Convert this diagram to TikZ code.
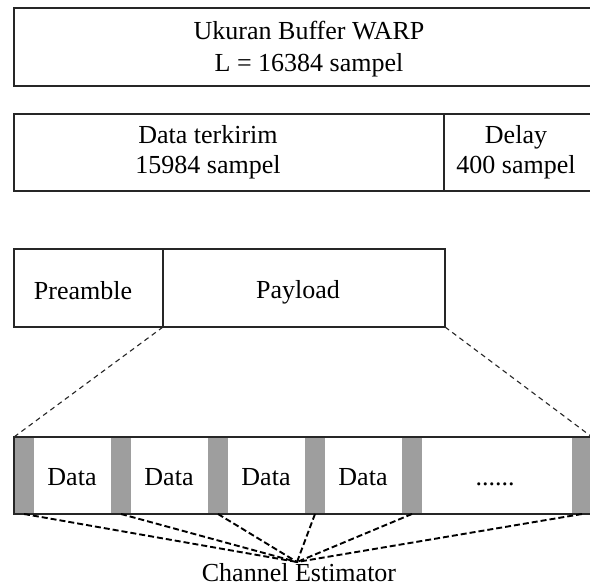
\documentclass[tikz,border=0pt]{standalone}
\usepackage{fontspec}
\setmainfont{Liberation Serif}
\begin{document}
\begin{tikzpicture}[x=1pt,y=-1pt,
  frame/.style={draw=black!85, line width=1.3pt, inner sep=0pt, outer sep=0pt, anchor=north west},
  lbl/.style={font=\fontsize{26}{31}\selectfont, inner sep=0pt, anchor=base},
  estblock/.style={fill=black!38, draw=none, inner sep=0pt, outer sep=0pt, anchor=north west,
                   minimum width=20pt, minimum height=77pt},
  zoomline/.style={dash pattern=on 5pt off 4pt, line width=1.1pt, draw=black!85},
  estline/.style={dash pattern=on 6pt off 3pt, line width=1.9pt, draw=black}]
\useasboundingbox (0,0) rectangle (590,586);
\fill[white] (0,0) rectangle (590,586);

% buffer size
\node[frame, minimum width=591pt, minimum height=78pt] (buf) at (14,8) {};
\node[lbl] (buf1) at (309,40) {Ukuran Buffer WARP};
\node[lbl] (buf2) at (309,72) {L = 16384 sampel};

% transmitted data and delay
\node[frame, minimum width=430pt, minimum height=77pt] (sent) at (14,114) {};
\node[frame, minimum width=161pt, minimum height=77pt] (delay) at (444,114) {};
\node[lbl] (sent1) at (208,143) {Data terkirim};
\node[lbl] (sent2) at (208,174) {15984 sampel};
\node[lbl] (delay1) at (516,143) {Delay};
\node[lbl] (delay2) at (516,174) {400 sampel};

% frame: preamble and payload
\node[frame, minimum width=149pt, minimum height=78pt] (pre) at (14,249) {};
\node[frame, minimum width=282pt, minimum height=78pt] (pay) at (163,249) {};
\node[lbl] (pre1) at (83,299) {Preamble};
\node[lbl] (pay1) at (298,298) {Payload};

% payload detail
\node[frame, minimum width=591pt, minimum height=77pt] (bar) at (14,437) {};
\foreach \i/\x in {1/14,2/111,3/208,4/305,5/402,6/572}
  \node[estblock] (g\i) at (\x,437) {};
\draw[draw=black!85, line width=1.3pt] (bar.north west) -- (bar.south west);
\draw[draw=black!85, line width=1.3pt] (bar.north west) -- (bar.north east);
\draw[draw=black!85, line width=1.3pt] (bar.south west) -- (bar.south east);
\foreach \i/\x in {1/72,2/169,3/266,4/363}
  \node[lbl] (d\i) at (\x,485) {Data};
\node[lbl] (dots) at (495,485) {......};

% zoom lines from payload to detail bar
\coordinate (barR) at (592,437);
\draw[zoomline] (pay.south west) -- (bar.north west);
\draw[zoomline] (pay.south east) -- (barR);

% channel estimator
\coordinate (ce) at (297,562);
\foreach \i in {1,...,6}
  \draw[estline] (g\i.south) -- (ce);
\node[lbl] (cet) at (299,581) {Channel Estimator};
\end{tikzpicture}
\end{document}
